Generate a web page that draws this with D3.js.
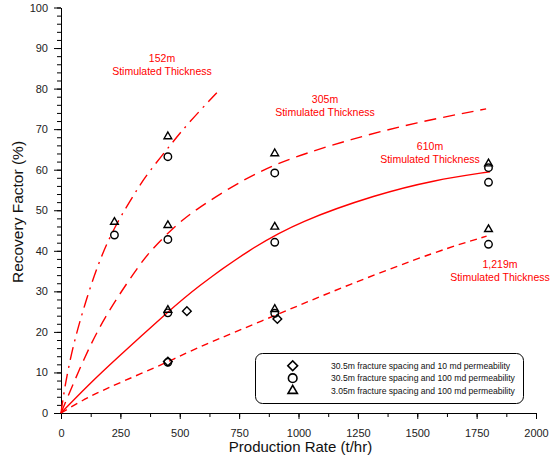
<!DOCTYPE html>
<html>
<head>
<meta charset="utf-8">
<script src="https://cdn.jsdelivr.net/npm/d3@7"></script>
<style>
  body { margin: 0; background: #fff; }
  svg { font-family: "Liberation Sans", Arial, sans-serif; }
</style>
</head>
<body>
<div id="chart"></div>
<script>
// curves: [production rate, recovery factor]
const curve152 = [[0,0],[17,7],[52,17],[101,27],[157,37],[225,46],[319,55],[361,58.8],[473,67],[536,71.5],[656,79]];
const curve305 = [[0,0],[100,14],[186,24],[312,35],[375,40],[487,46.5],[564,50],[712,55.6],[838,59.6],[964,62.8],[1217,67.5],[1498,71.7],[1790,75]];
const curve610 = [[0,0],[115,6.9],[227,13.1],[459,25.4],[564,30.7],[796,40.5],[1006,47.3],[1329,53.9],[1568,57.4],[1806,59.5]];
const curve1219 = [[0,0],[115,4],[256,7.7],[452,12.6],[564,15.9],[908,24.2],[1203,31.5],[1596,40.2],[1792,43.6]];

// measured points
const diamonds = [[450,12.7],[530,25.1],[911,23.2]];
const circles = [[225,43.9],[450,63.2],[450,42.8],[450,24.7],[450,12.5],[900,59.2],[900,42.1],[900,24.6],[1800,60.5],[1800,56.9],[1800,41.6]];
const triangles = [[225,47.1],[450,68.2],[450,46.3],[450,25.4],[900,64],[900,45.9],[900,25.6],[1800,61.5],[1800,45.3]];

const legendLabels = [
  "30.5m fracture spacing and 10 md permeability",
  "30.5m fracture spacing and 100 md permeability",
  "3.05m fracture spacing and 100 md permeability"
];
const curveLabels = ["152m", "305m", "610m", "1,219m"];
const xTicks = [0, 250, 500, 750, 1000, 1250, 1500, 1750, 2000];
const yTicks = [0, 10, 20, 30, 40, 50, 60, 70, 80, 90, 100];

const width = 550, height = 459;
const red = "#ff0000";

const x = d3.scaleLinear().domain([0, 2000]).range([61, 536]);
const y = d3.scaleLinear().domain([0, 100]).range([413, 7.5]);

const svg = d3.select('#chart')
  .append('svg')
  .attr('width', width)
  .attr('height', height);

// axes, minor ticks first
svg.append('g')
  .attr('transform', `translate(0, ${y(0)})`)
  .call(d3.axisBottom(x).tickValues(d3.range(0, 2001, 125)).tickSize(4).tickFormat(''))
  .call(g => g.select('.domain').remove());
svg.append('g')
  .attr('transform', `translate(${x(0)}, 0)`)
  .call(d3.axisLeft(y).tickValues(d3.range(0, 101, 2)).tickSize(4).tickFormat(''))
  .call(g => g.select('.domain').remove());

svg.append('g')
  .attr('transform', `translate(0, ${y(0)})`)
  .call(d3.axisBottom(x).tickValues(xTicks).tickSize(6).tickSizeOuter(0).tickPadding(10).tickFormat(d3.format('d')));
svg.append('g')
  .attr('transform', `translate(${x(0)}, 0)`)
  .call(d3.axisLeft(y).tickValues(yTicks).tickSize(7).tickSizeOuter(0).tickPadding(6).tickFormat(d3.format('d')));

svg.selectAll('.tick text')
  .attr('font-size', 11)
  .attr('font-family', '"Liberation Sans", Arial, sans-serif')
  .attr('fill', '#222');
svg.selectAll('.domain, .tick line').attr('stroke', '#000');

svg.append('text')
  .attr('x', x(1000) + 2)
  .attr('y', 452)
  .attr('text-anchor', 'middle')
  .attr('font-size', 15)
  .attr('fill', '#111')
  .text('Production Rate (t/hr)');

svg.append('text')
  .attr('transform', 'translate(23, 212) rotate(-90)')
  .attr('text-anchor', 'middle')
  .attr('font-size', 15.5)
  .attr('fill', '#111')
  .text('Recovery Factor (%)');

// curves
const line = d3.line()
  .x(d => x(d[0]))
  .y(d => y(d[1]))
  .curve(d3.curveBasis);

const curves = [
  { data: curve152, dash: '13,6,2,6' },
  { data: curve305, dash: '12,7' },
  { data: curve610, dash: null },
  { data: curve1219, dash: '7,5' }
];

svg.selectAll('.curve')
  .data(curves)
  .enter()
  .append('path')
  .attr('class', 'curve')
  .attr('d', d => line(d.data))
  .attr('fill', 'none')
  .attr('stroke', red)
  .attr('stroke-width', 1.4)
  .attr('stroke-dasharray', d => d.dash);

// curve labels
const labelPos = [[162, 62], [325, 103], [430, 150], [500, 268]];
labelPos.forEach((p, i) => {
  const t = svg.append('text')
    .attr('text-anchor', 'middle')
    .attr('font-size', 10.5)
    .attr('fill', red);
  t.append('tspan').attr('x', p[0]).attr('y', p[1]).text(curveLabels[i]);
  t.append('tspan').attr('x', p[0]).attr('y', p[1] + 13.3).text('Stimulated Thickness');
});

// markers
const diamondPath = d3.symbol().type(d3.symbolSquare).size(38)();
const circlePath = d3.symbol().type(d3.symbolCircle).size(44)();
const trianglePath = d3.symbol().type(d3.symbolTriangle).size(26)();

function drawMarks(data, path, rot) {
  svg.selectAll(null)
    .data(data)
    .enter()
    .append('path')
    .attr('d', path)
    .attr('transform', d => `translate(${x(d[0])}, ${y(d[1])})` + (rot ? ' rotate(45)' : ''))
    .attr('fill', 'none')
    .attr('stroke', '#000')
    .attr('stroke-width', 1.4);
}
drawMarks(circles, circlePath, false);
drawMarks(diamonds, diamondPath, true);
drawMarks(triangles, trianglePath, false);

// legend
const legend = svg.append('g');
legend.append('rect')
  .attr('x', 255.5)
  .attr('y', 353.5)
  .attr('width', 268)
  .attr('height', 50)
  .attr('rx', 7)
  .attr('fill', '#fff')
  .attr('stroke', '#000')
  .attr('stroke-width', 1);

const legendSyms = [
  d3.symbol().type(d3.symbolSquare).size(48)(),
  d3.symbol().type(d3.symbolCircle).size(58)(),
  d3.symbol().type(d3.symbolTriangle).size(38)()
];
legendLabels.forEach((lab, i) => {
  const ly = 365.7 + i * 12.5;
  legend.append('path')
    .attr('d', legendSyms[i])
    .attr('transform', `translate(292.7, ${ly})` + (i === 0 ? ' rotate(45)' : ''))
    .attr('fill', 'none')
    .attr('stroke', '#000')
    .attr('stroke-width', 1.6);
  legend.append('text')
    .attr('x', 331)
    .attr('y', ly + 3)
    .attr('font-size', 8.6)
    .attr('fill', '#111')
    .text(lab);
});
</script>
</body>
</html>
